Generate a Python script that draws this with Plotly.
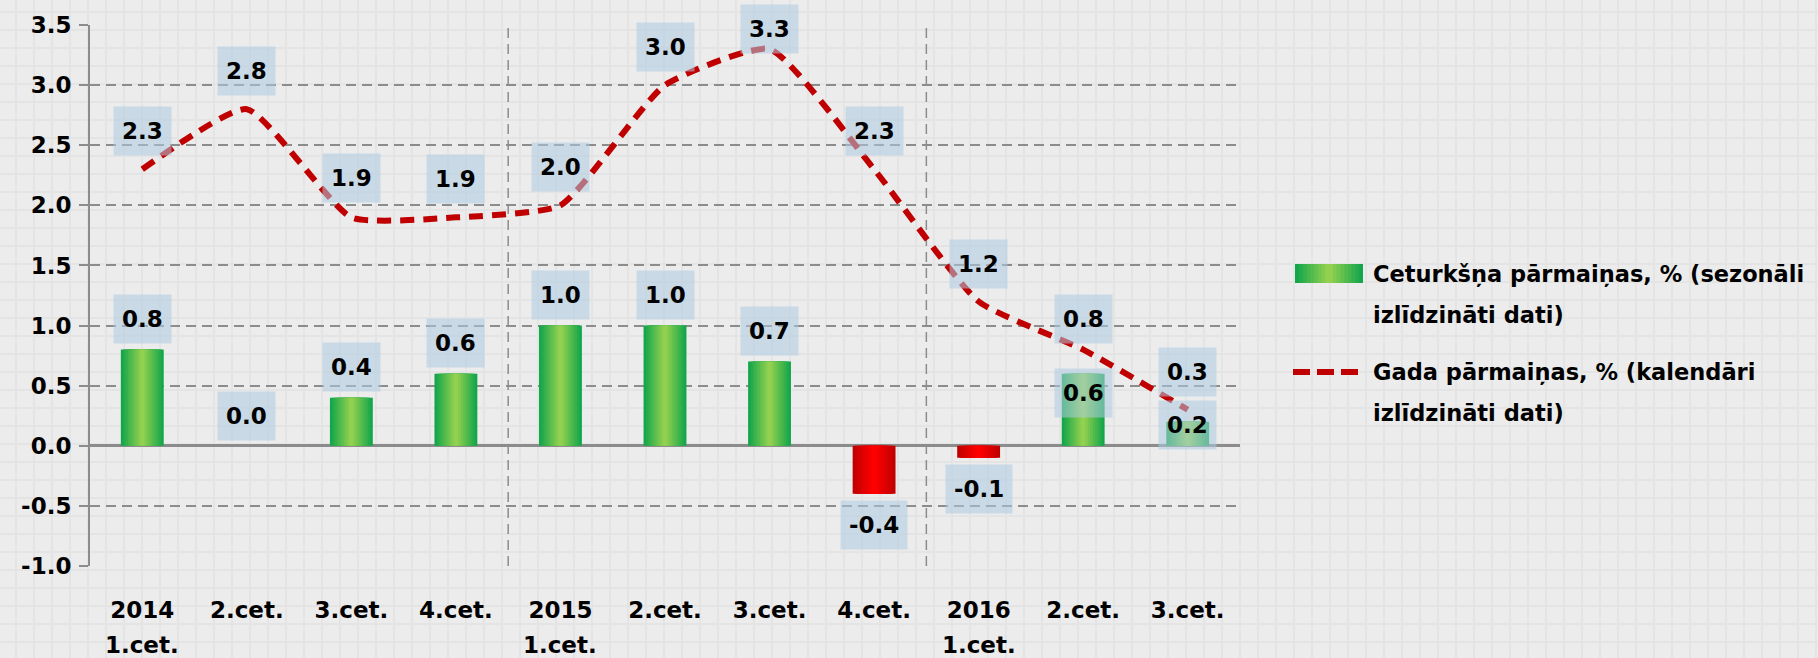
import plotly.graph_objects as go

# --- data ---
QUARTERS = ["2014\n1.cet.", "2.cet.", "3.cet.", "4.cet.",
            "2015\n1.cet.", "2.cet.", "3.cet.", "4.cet.",
            "2016\n1.cet.", "2.cet.", "3.cet."]
QUARTERLY = [0.8, 0.0, 0.4, 0.6, 1.0, 1.0, 0.7, -0.4, -0.1, 0.6, 0.2]
ANNUAL = [2.3, 2.8, 1.9, 1.9, 2.0, 3.0, 3.3, 2.3, 1.2, 0.8, 0.3]
Y_TICKS = [-1.0, -0.5, 0.0, 0.5, 1.0, 1.5, 2.0, 2.5, 3.0, 3.5]

BAR_NAME = "Ceturkšņa pārmaiņas, % (sezonāli\nizlīdzināti dati)"
LINE_NAME = "Gada pārmaiņas, % (kalendāri\nizlīdzināti dati)"

# label nudges in pixels (positive = up), as placed in the original
LINE_LABEL_SHIFT = [38, 38, 39, 38, 38, 38, 20, 38, 38, 31, 38]
BAR_LABEL_SHIFT = [31, 30, 31, 31, 31, 31, 31, -31, -31, -19, -3]

# --- look ---
W, H = 1818, 658
L, R, T, B = 90, 578, 25, 92
FONT = "DejaVu Sans"
GREEN_EDGE, GREEN_MID = (20, 166, 74), (146, 208, 80)
RED_EDGE, RED_MID = (192, 0, 0), (255, 0, 0)
LINE_RED = "#c00000"
GRID = "#8c8c8c"
LABEL_BG = "rgba(173,204,225,0.55)"
BAR_WIDTH = 0.41
LAYERS = 9


def mix(a, b, t):
    return "rgb({},{},{})".format(*[round(a[i] + (b[i] - a[i]) * t) for i in range(3)])


def px_x(p):
    return (p - L) / (W - L - R)


def px_y(p):
    return (H - B - p) / (H - T - B)


x = list(range(len(QUARTERS)))
fig = go.Figure()

# gradient bars: overlaid layers getting narrower and lighter towards the centre
for k in range(LAYERS):
    t = k / (LAYERS - 1)
    colors = [mix(GREEN_EDGE, GREEN_MID, t) if v >= 0 else mix(RED_EDGE, RED_MID, t)
              for v in QUARTERLY]
    fig.add_trace(go.Bar(
        x=x, y=QUARTERLY,
        width=BAR_WIDTH * (LAYERS - k) / LAYERS,
        marker=dict(color=colors, line=dict(width=0)),
        showlegend=False, hoverinfo="skip" if k else None,
        name=BAR_NAME.replace("\n", " "),
    ))

fig.add_trace(go.Scatter(
    x=x, y=ANNUAL, mode="lines",
    line=dict(color=LINE_RED, width=6, dash="14px,9px", shape="spline", smoothing=0.5),
    showlegend=False, name=LINE_NAME.replace("\n", " "),
))

label_font = dict(family=FONT, size=23, color="black", weight="bold")
annotations = []
for i in x:
    annotations.append(dict(
        x=i, y=ANNUAL[i], xref="x", yref="y", text=f"{ANNUAL[i]:.1f}",
        showarrow=False, yshift=LINE_LABEL_SHIFT[i], bgcolor=LABEL_BG,
        borderpad=8, height=32, font=label_font,
    ))
    annotations.append(dict(
        x=i, y=QUARTERLY[i], xref="x", yref="y", text=f"{QUARTERLY[i]:.1f}",
        showarrow=False, yshift=BAR_LABEL_SHIFT[i], bgcolor=LABEL_BG,
        borderpad=8, height=32, font=label_font,
    ))

# second line of the category labels (year-start quarters)
tick_font = dict(family=FONT, size=23, color="black", weight="bold")
for i, q in enumerate(QUARTERS):
    parts = q.split("\n")
    if len(parts) > 1:
        annotations.append(dict(
            x=i, y=0, xref="x", yref="paper", yanchor="middle", text=parts[1],
            showarrow=False, yshift=-79, font=tick_font,
        ))

shapes = []
# faint squared-paper background
for gx in range(16 - 18, W, 18):
    shapes.append(dict(type="line", xref="paper", yref="paper", layer="below",
                       x0=px_x(gx), x1=px_x(gx), y0=px_y(0), y1=px_y(H),
                       line=dict(color="#e4e4e4", width=2)))
for gy in range(12 - 18, H, 18):
    shapes.append(dict(type="line", xref="paper", yref="paper", layer="below",
                       x0=px_x(0), x1=px_x(W), y0=px_y(gy), y1=px_y(gy),
                       line=dict(color="#e4e4e4", width=2)))

# year separators
for i, q in enumerate(QUARTERS):
    if i > 0 and "\n" in q:
        shapes.append(dict(type="line", xref="x", yref="y", x0=i - 0.5, x1=i - 0.5,
                           y0=Y_TICKS[0], y1=Y_TICKS[-1], layer="below",
                           line=dict(color=GRID, width=1.5, dash="10px,6px")))

# custom legend
sw_x0, sw_x1, sw_y0, sw_y1 = 1295, 1363, 264, 283
sw_c = (sw_x0 + sw_x1) / 2
for k in range(LAYERS):
    t = k / (LAYERS - 1)
    half = (sw_x1 - sw_x0) / 2 * (LAYERS - k) / LAYERS
    shapes.append(dict(type="rect", xref="paper", yref="paper",
                       x0=px_x(sw_c - half), x1=px_x(sw_c + half),
                       y0=px_y(sw_y1), y1=px_y(sw_y0),
                       fillcolor=mix(GREEN_EDGE, GREEN_MID, t), line=dict(width=0)))
shapes.append(dict(type="line", xref="paper", yref="paper",
                   x0=px_x(1293), x1=px_x(1360), y0=px_y(372), y1=px_y(372),
                   line=dict(color=LINE_RED, width=6, dash="17px,7px")))

legend_font = dict(family=FONT, size=22.5, color="black", weight="bold")
for name, ys in ((BAR_NAME, (274, 315)), (LINE_NAME, (372, 413))):
    for line, yy in zip(name.split("\n"), ys):
        annotations.append(dict(
            x=px_x(1371), y=px_y(yy), xref="paper", yref="paper",
            xanchor="left", yanchor="middle", text=line, showarrow=False,
            font=legend_font,
        ))

fig.update_layout(
    width=W, height=H,
    margin=dict(l=L, r=R, t=T, b=B),
    barmode="overlay",
    paper_bgcolor="#ececec",
    plot_bgcolor="rgba(0,0,0,0)",
    showlegend=False,
    annotations=annotations,
    shapes=shapes,
    xaxis=dict(
        range=[-0.5, len(QUARTERS) - 0.5],
        tickvals=x, ticktext=[q.split("\n")[0] for q in QUARTERS],
        showgrid=False, zeroline=False, showline=False, ticks="",
        tickfont=tick_font, ticklabelstandoff=28,
    ),
    yaxis=dict(
        range=[Y_TICKS[0], Y_TICKS[-1]],
        tickvals=Y_TICKS, ticktext=[f"{v:.1f}" for v in Y_TICKS],
        showgrid=True, gridcolor=GRID, gridwidth=1.5, griddash="10px,6px",
        zeroline=True, zerolinecolor=GRID, zerolinewidth=2.5,
        showline=True, linecolor=GRID, linewidth=2,
        ticks="outside", ticklen=9, tickcolor=GRID, tickwidth=1.5,
        tickfont=tick_font, ticklabelstandoff=3,
    ),
)

fig.write_html("out.html", config={"displayModeBar": False},
               post_script="document.body.style.margin='0';")
